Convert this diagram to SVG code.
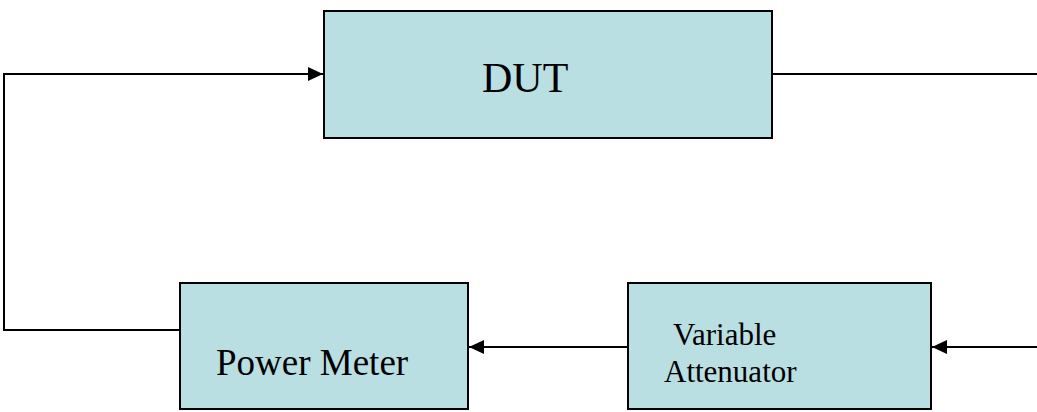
<svg xmlns="http://www.w3.org/2000/svg" width="1037" height="412" viewBox="0 0 1037 412">
<style>
.box{fill:#BADFE2;stroke:#000;stroke-width:2}
.lbl{font-family:"Liberation Serif","Times New Roman",serif;fill:#000}
.wire{fill:none;stroke:#000;stroke-width:2}
</style>
<defs>
<marker id="arr" markerUnits="userSpaceOnUse" markerWidth="15" markerHeight="14" refX="15" refY="7" orient="auto">
<path d="M0,0 L15,7 L0,14 z" fill="#000"/>
</marker>
</defs>
<rect width="1037" height="412" fill="#fff"/>
<g id="connectors">
<polyline class="wire" points="180,330 4,330 4,74 323,74" marker-end="url(#arr)"/>
<line class="wire" x1="772" y1="74" x2="1037" y2="74"/>
<line class="wire" x1="1037" y1="347" x2="932" y2="347" marker-end="url(#arr)"/>
<line class="wire" x1="628" y1="347" x2="469" y2="347" marker-end="url(#arr)"/>
</g>
<g id="dut">
<rect class="box" x="324" y="11" width="448" height="127"/>
<text class="lbl" x="482" y="92" font-size="42">DUT</text>
</g>
<g id="power-meter">
<rect class="box" x="180" y="283" width="288" height="126"/>
<text class="lbl" x="216" y="375" font-size="37">Power Meter</text>
</g>
<g id="variable-attenuator">
<rect class="box" x="628" y="283" width="303" height="126"/>
<text class="lbl" x="673" y="345" font-size="31">Variable</text>
<text class="lbl" x="664" y="382" font-size="31">Attenuator</text>
</g>
</svg>
